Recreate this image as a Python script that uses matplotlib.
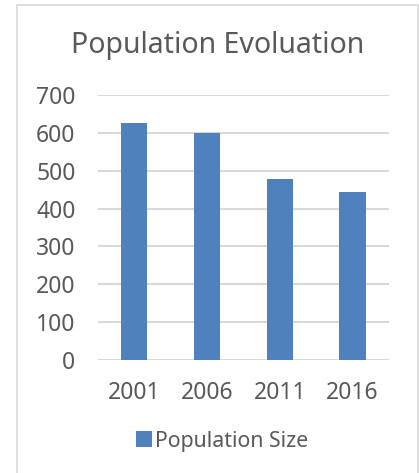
import matplotlib
matplotlib.use("Agg")
import matplotlib.pyplot as plt
from matplotlib.patches import Rectangle

years = ["2001", "2006", "2011", "2016"]
population = [625, 599, 478, 445]
y_ticks = [0, 100, 200, 300, 400, 500, 600, 700]

bar_color = "#4f81bd"
text_color = "#595959"
grid_color = "#d9d9d9"

plt.rcParams["font.family"] = ["Noto Sans", "DejaVu Sans"]

fig = plt.figure(figsize=(4.19, 4.73), dpi=100)
fig.patch.set_facecolor("white")

# thin frame around the chart area
fig.patches.append(Rectangle((16.5 / 419, -0.05), (418 - 16.5) / 419, 1.05 - 5 / 473,
                             transform=fig.transFigure, fill=False,
                             edgecolor="#d9d9d9", linewidth=1.2))

ax = fig.add_axes([97.7 / 419, 1 - 360 / 473, (389 - 97.7) / 419, (360 - 95) / 473])
x = range(len(years))
ax.bar(x, population, width=0.36, color=bar_color, zorder=3, label="Population Size")

ax.set_xlim(-0.5, len(years) - 0.5)
ax.set_ylim(0, 700)
ax.set_yticks(y_ticks)
ax.set_xticks(list(x))
ax.set_xticklabels(years)
ax.yaxis.grid(True, color=grid_color, linewidth=1.5, zorder=0)
ax.set_axisbelow(True)
for s in ax.spines.values():
    s.set_visible(False)
ax.tick_params(axis="both", length=0, labelsize=16.5, colors=text_color)
ax.tick_params(axis="y", pad=16)
ax.tick_params(axis="x", pad=15)

fig.text(218 / 419, 1 - 45 / 473, "Population Evoluation", ha="center", va="center",
         fontsize=20.5, color=text_color)

fig.legend(loc="center", bbox_to_anchor=(222 / 419, 1 - 441 / 473), frameon=False,
           fontsize=15.3, handlelength=0.75, handleheight=0.75, handletextpad=0.15,
           labelcolor=text_color)

fig.savefig("out.png", dpi=100, facecolor="white")
